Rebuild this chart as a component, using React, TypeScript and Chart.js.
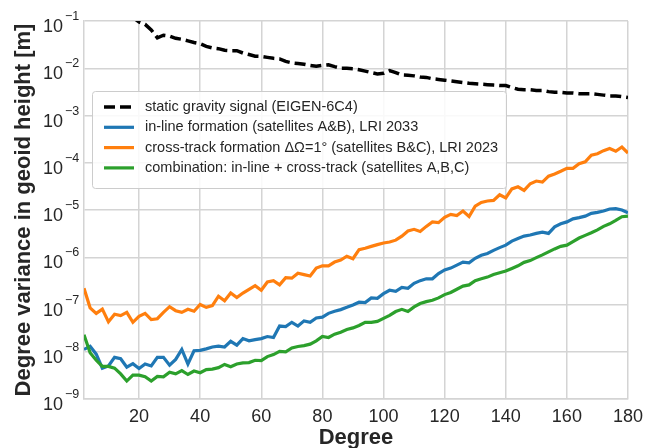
import React, { useEffect, useRef } from "react";
import { Chart, registerables } from "chart.js";

Chart.register(...registerables);

const degrees = [
  2, 4, 6, 8, 10, 12, 14, 16, 18, 20, 22, 24, 26, 28, 30, 32, 34, 36, 38, 40,
  42, 44, 46, 48, 50, 52, 54, 56, 58, 60, 62, 64, 66, 68, 70, 72, 74, 76, 78, 80,
  82, 84, 86, 88, 90, 92, 94, 96, 98, 100, 102, 104, 106, 108, 110, 112, 114, 116, 118, 120,
  122, 124, 126, 128, 130, 132, 134, 136, 138, 140, 142, 144, 146, 148, 150, 152, 154, 156, 158, 160,
  162, 164, 166, 168, 170, 172, 174, 176, 178, 180,
];

const staticSignal = [
  1.0, 0.7, 0.5, 0.4, 0.3, 0.25, 0.2, 0.16, 0.12, 0.095,
  0.085, 0.065, 0.044, 0.05, 0.048, 0.043, 0.041, 0.038, 0.035, 0.033,
  0.029, 0.027, 0.026, 0.024, 0.0235, 0.0235, 0.021, 0.0195, 0.018, 0.0178,
  0.017, 0.0162, 0.0158, 0.014, 0.013, 0.0126, 0.0122, 0.0115, 0.011, 0.0115,
  0.0118, 0.0108, 0.01, 0.01, 0.0098, 0.0093, 0.0087, 0.0081, 0.0076, 0.0078,
  0.0089, 0.0081, 0.0072, 0.0071, 0.0069, 0.0065, 0.0064, 0.006, 0.0058, 0.0056,
  0.0054, 0.0052, 0.005, 0.0048, 0.0047, 0.0046, 0.0045, 0.0044, 0.0043, 0.0043,
  0.0039, 0.0036, 0.0035, 0.0035, 0.0034, 0.0034, 0.0032, 0.0031, 0.0031, 0.003,
  0.003, 0.0029, 0.0029, 0.0029, 0.0028, 0.0027, 0.0026, 0.0026, 0.0025, 0.0024,
];

const inLine = [
  1.12e-8, 1.3e-8, 8.9e-9, 4.5e-9, 5.0e-9, 7.6e-9, 7.1e-9, 4.7e-9, 5.6e-9, 4.4e-9,
  5.5e-9, 5.0e-9, 7.6e-9, 7.6e-9, 5.2e-9, 6.9e-9, 1.12e-8, 5.5e-9, 1.05e-8, 1.07e-8,
  1.15e-8, 1.26e-8, 1.32e-8, 1.26e-8, 1.66e-8, 1.38e-8, 1.9e-8, 1.7e-8, 1.8e-8, 1.9e-8,
  2.1e-8, 2.0e-8, 3.5e-8, 3.4e-8, 4.2e-8, 3.5e-8, 4.5e-8, 4.2e-8, 5.2e-8, 5.4e-8,
  6.5e-8, 7.2e-8, 7.8e-8, 8.7e-8, 9.8e-8, 1.12e-7, 1.1e-7, 1.38e-7, 1.35e-7, 1.7e-7,
  2.0e-7, 1.9e-7, 2.3e-7, 2.2e-7, 2.8e-7, 3.2e-7, 3.5e-7, 3.5e-7, 4.5e-7, 5.4e-7,
  5.9e-7, 6.8e-7, 7.9e-7, 7.6e-7, 9.5e-7, 1.1e-6, 1.2e-6, 1.4e-6, 1.6e-6, 1.8e-6,
  2.2e-6, 2.5e-6, 2.8e-6, 2.95e-6, 3.2e-6, 3.4e-6, 3.2e-6, 4.4e-6, 5.1e-6, 5.6e-6,
  6.5e-6, 6.9e-6, 7.4e-6, 8.5e-6, 8.9e-6, 9.5e-6, 1.05e-5, 1.07e-5, 1.0e-5, 8.7e-6,
];

const crossTrack = [
  2.2e-7, 8.5e-8, 6.5e-8, 8.0e-8, 4.3e-8, 6.2e-8, 5.8e-8, 6.8e-8, 4.2e-8, 5.6e-8,
  6.5e-8, 4.8e-8, 5.0e-8, 6.8e-8, 9.0e-8, 7.4e-8, 6.8e-8, 7.9e-8, 7.2e-8, 1.0e-7,
  8.7e-8, 9.5e-8, 1.5e-7, 1.2e-7, 1.75e-7, 1.4e-7, 1.75e-7, 2.1e-7, 2.5e-7, 2.0e-7,
  3.0e-7, 3.2e-7, 2.6e-7, 3.7e-7, 3.6e-7, 4.6e-7, 4.3e-7, 4.0e-7, 5.9e-7, 6.6e-7,
  6.6e-7, 7.9e-7, 8.7e-7, 1.05e-6, 9.3e-7, 1.45e-6, 1.55e-6, 1.7e-6, 1.85e-6, 2.0e-6,
  2.1e-6, 2.3e-6, 2.8e-6, 3.6e-6, 3.9e-6, 3.5e-6, 4.5e-6, 5.6e-6, 5.4e-6, 7.0e-6,
  8.1e-6, 7.6e-6, 9.5e-6, 7.3e-6, 1.2e-5, 1.45e-5, 1.55e-5, 1.6e-5, 2.1e-5, 1.8e-5,
  2.8e-5, 3.1e-5, 2.6e-5, 3.6e-5, 4.1e-5, 3.9e-5, 5.2e-5, 5.8e-5, 6.6e-5, 7.6e-5,
  7.6e-5, 9.5e-5, 1.05e-4, 1.45e-4, 1.55e-4, 1.8e-4, 2.0e-4, 1.75e-4, 2.15e-4, 1.6e-4,
];

const combination = [
  2.3e-8, 9.5e-9, 6.6e-9, 4.9e-9, 4.9e-9, 4.5e-9, 3.4e-9, 2.4e-9, 3.2e-9, 3.2e-9,
  2.95e-9, 2.4e-9, 3.0e-9, 2.95e-9, 3.7e-9, 3.4e-9, 4.0e-9, 3.3e-9, 3.9e-9, 3.6e-9,
  4.2e-9, 4.3e-9, 4.6e-9, 5.4e-9, 4.8e-9, 5.5e-9, 5.8e-9, 5.9e-9, 6.6e-9, 6.5e-9,
  7.9e-9, 8.7e-9, 1.02e-8, 1.0e-8, 1.2e-8, 1.29e-8, 1.35e-8, 1.45e-8, 1.7e-8, 2.1e-8,
  2.0e-8, 2.35e-8, 2.6e-8, 2.95e-8, 3.2e-8, 3.6e-8, 4.2e-8, 4.2e-8, 4.4e-8, 5.1e-8,
  5.9e-8, 7.1e-8, 7.9e-8, 7.1e-8, 8.9e-8, 1.05e-7, 1.15e-7, 1.23e-7, 1.38e-7, 1.62e-7,
  1.8e-7, 2.1e-7, 2.45e-7, 2.6e-7, 3.2e-7, 3.5e-7, 3.8e-7, 4.3e-7, 4.7e-7, 5.1e-7,
  5.8e-7, 6.6e-7, 7.8e-7, 8.5e-7, 9.8e-7, 1.12e-6, 1.3e-6, 1.5e-6, 1.7e-6, 1.8e-6,
  2.15e-6, 2.55e-6, 2.9e-6, 3.3e-6, 3.8e-6, 4.5e-6, 5.1e-6, 6.0e-6, 7.2e-6, 7.4e-6,
];

const seriesLabels = [
  "static gravity signal (EIGEN-6C4)",
  "in-line formation (satellites A&B), LRI 2033",
  "cross-track formation ΔΩ=1° (satellites B&C), LRI 2023",
  "combination: in-line + cross-track (satellites A,B,C)",
];

const xTickValues = [20, 40, 60, 80, 100, 120, 140, 160, 180];
const yTickValues = [1e-9, 1e-8, 1e-7, 1e-6, 1e-5, 1e-4, 1e-3, 1e-2, 1e-1];

const FONT = '"Liberation Sans", Arial, Helvetica, sans-serif';
const TEXT = "#262626";
const GRID = "#d4d4d4";

const toPoints = (vals: number[]) => degrees.map((d, i) => ({ x: d, y: vals[i] }));

const logTickLabels = {
  id: "logTickLabels",
  afterDraw(chart: any) {
    const ctx = chart.ctx;
    const ys = chart.scales.y;
    const left = chart.chartArea.left;
    ctx.save();
    ctx.fillStyle = TEXT;
    yTickValues.forEach((v) => {
      const py = ys.getPixelForValue(v);
      const exp = Math.round(Math.log10(v));
      ctx.font = `18px ${FONT}`;
      ctx.textAlign = "right";
      ctx.textBaseline = "alphabetic";
      ctx.fillText("10", left - 21, py + 11);
      ctx.font = `12.5px ${FONT}`;
      ctx.textAlign = "left";
      ctx.fillText((exp < 0 ? "\u2212" : "") + Math.abs(exp), left - 19, py - 1);
    });
    ctx.restore();
  },
};

const boxLegend = {
  id: "boxLegend",
  afterDatasetsDraw(chart: any) {
    const ctx = chart.ctx;
    const area = chart.chartArea;
    const x0 = area.left + 8;
    const y0 = area.top + 70;
    const w = 414;
    const h = 97;
    ctx.save();
    ctx.beginPath();
    if (ctx.roundRect) ctx.roundRect(x0 + 0.5, y0 + 0.5, w, h, 3);
    else ctx.rect(x0 + 0.5, y0 + 0.5, w, h);
    ctx.fillStyle = "rgba(255,255,255,0.85)";
    ctx.fill();
    ctx.strokeStyle = "#cccccc";
    ctx.lineWidth = 1;
    ctx.stroke();
    chart.data.datasets.forEach((ds: any, i: number) => {
      const cy = y0 + 16 + i * 20.3;
      ctx.beginPath();
      ctx.setLineDash(ds.borderDash || []);
      ctx.strokeStyle = ds.borderColor;
      ctx.lineWidth = ds.borderWidth;
      ctx.moveTo(x0 + 12, cy);
      ctx.lineTo(x0 + 42, cy);
      ctx.stroke();
      ctx.setLineDash([]);
      ctx.fillStyle = TEXT;
      ctx.font = `14.5px ${FONT}`;
      ctx.textAlign = "left";
      ctx.textBaseline = "middle";
      ctx.fillText(ds.label, x0 + 53, cy);
    });
    ctx.restore();
  },
};

export default function App() {
  const ref = useRef<HTMLCanvasElement | null>(null);

  useEffect(() => {
    if (!ref.current) return;
    Chart.defaults.font.family = FONT;
    const chart = new Chart(ref.current, {
      type: "line",
      data: {
        datasets: [
          {
            label: seriesLabels[0],
            data: toPoints(staticSignal),
            borderColor: "#000000",
            borderWidth: 3.5,
            borderDash: [11, 5],
            pointRadius: 0,
            fill: false,
            tension: 0,
            order: 3,
          },
          {
            label: seriesLabels[1],
            data: toPoints(inLine),
            borderColor: "#1f77b4",
            borderWidth: 3.2,
            pointRadius: 0,
            fill: false,
            tension: 0,
            order: 2,
          },
          {
            label: seriesLabels[2],
            data: toPoints(crossTrack),
            borderColor: "#ff7f0e",
            borderWidth: 3.2,
            pointRadius: 0,
            fill: false,
            tension: 0,
            order: 1,
          },
          {
            label: seriesLabels[3],
            data: toPoints(combination),
            borderColor: "#2ca02c",
            borderWidth: 3.2,
            pointRadius: 0,
            fill: false,
            tension: 0,
            order: 0,
          },
        ],
      } as any,
      options: {
        animation: false,
        responsive: false,
        devicePixelRatio: 1,
        layout: { padding: { top: 21, right: 38, left: 0, bottom: 0 } },
        plugins: {
          legend: { display: false },
          tooltip: { enabled: false },
        },
        scales: {
          x: {
            type: "linear",
            min: 2,
            max: 180,
            afterBuildTicks: (s: any) => {
              s.ticks = xTickValues.map((v) => ({ value: v }));
            },
            afterFit: (s: any) => {
              s.height = 49;
            },
            ticks: {
              font: { size: 18 },
              color: TEXT,
              padding: 7,
              maxRotation: 0,
              autoSkip: false,
            },
            grid: { color: GRID, lineWidth: 1.5, drawTicks: false },
            border: { color: GRID, width: 1.5 },
            title: {
              display: true,
              text: "Degree",
              color: TEXT,
              font: { size: 22, weight: "bold", lineHeight: 1 },
              padding: { top: 0, bottom: -1 },
            },
          },
          y: {
            type: "logarithmic",
            min: 1e-9,
            max: 1e-1,
            afterBuildTicks: (s: any) => {
              s.ticks = yTickValues.map((v) => ({ value: v }));
            },
            afterFit: (s: any) => {
              s.width = 84;
            },
            ticks: { display: false },
            grid: { color: GRID, lineWidth: 1.5, drawTicks: false },
            border: { color: GRID, width: 1.5 },
            title: {
              display: true,
              text: "Degree variance in geoid height [m]",
              color: TEXT,
              font: { size: 22, weight: "bold" },
              padding: { top: 11, bottom: 0 },
            },
          },
        },
      } as any,
      plugins: [logTickLabels, boxLegend],
    });
    return () => chart.destroy();
  }, []);

  return (
    <div style={{ position: "absolute", left: 0, top: 0, width: 666, height: 448, background: "#fff" }}>
      <canvas ref={ref} width={666} height={448} style={{ display: "block" }} />
    </div>
  );
}
